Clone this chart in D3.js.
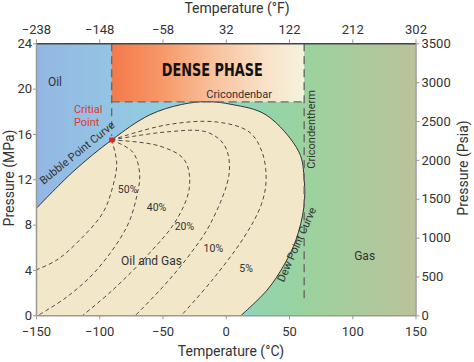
<!DOCTYPE html>
<html>
<head>
<meta charset="utf-8">
<script src="https://cdn.jsdelivr.net/npm/d3@7"></script>
<style>
  body { margin: 0; background: #fff; }
  text { font-family: Roboto, "Liberation Sans", sans-serif; }
</style>
</head>
<body>
<div id="chart"></div>
<script>
// Axis ticks
const tempTicksC = [-150, -100, -50, 0, 50, 100, 150];
const tempTicksF = [-238, -148, -58, 32, 122, 212, 302];
const pressureTicksMPa = [0, 4, 8, 12, 16, 20, 24];
const pressureTicksPsia = [0, 500, 1000, 1500, 2000, 2500, 3000, 3500];

// Phase envelope (temperature °C, pressure MPa)
const envelopeT = [-150, -120.9, -90.2, -60.2, -35, -15, 5, 31.9, 57.9, 62, 61.8, 55.5, 46.1, 32.7, 12.2];
const envelopeP = [9.4, 12.65, 15.47, 17.68, 18.6, 18.85, 18.6, 17.68, 14.4, 12.0, 9.56, 6.65, 4.44, 2.23, 0];

const criticalT = -90.2, criticalP = 15.47;
const cricondenbarP = 18.83;
const cricondenthermT = 62;

// Quality lines (liquid %)
const qualityLabels = ["50%", "40%", "20%", "10%", "5%"];
const qualityT = [
  [-90.2, -86.2, -89.4, -97.2, -115.4, -133.5, -150],
  [-90.2, -73.6, -68.1, -70.5, -78.3, -102, -125.6, -147.5],
  [-90.2, -52.4, -32.7, -28.7, -39, -60.2, -89.4, -113],
  [-90.2, -46.9, -15.4, -1.2, 2.8, -11.4, -28.7, -48.4, -71.3],
  [-90.2, -46.9, -7.5, 18.5, 28.7, 31.9, 28, 14.6, -10.6, -35]
];
const qualityP = [
  [15.47, 13.44, 11.32, 9.03, 6.65, 4.88, 4.0],
  [15.47, 14.41, 12.56, 10.44, 7.79, 4.0, 1.62, 0.05],
  [15.47, 14.94, 13.71, 11.32, 8.41, 5.5, 2.23, 0],
  [15.47, 16.18, 16.18, 15.03, 12.65, 8.24, 5.32, 2.67, 0],
  [15.47, 16.8, 17.06, 16.18, 14.41, 11.94, 9.74, 6.91, 3.12, 0]
];
const qualityLabelT = [-77.6, -54.7, -32.7, -9.8, 16.1];
const qualityLabelP = [11.15, 9.56, 7.88, 5.94, 4.17];

const width = 474, height = 362;
const mLeft = 36, mRight = 415.5, mTop = 43.3, mBottom = 315.3;

const svg = d3.select("#chart").append("svg")
  .attr("width", width).attr("height", height);

const x = d3.scaleLinear().domain([-150, 150]).range([mLeft, mRight]);
const xF = d3.scaleLinear().domain([-238, 302]).range([mLeft, mRight]);
const y = d3.scaleLinear().domain([0, 24]).range([mBottom, mTop]);
const yPsi = d3.scaleLinear().domain([0, 3500]).range([mBottom, mTop]);

const defs = svg.append("defs");
const bg = defs.append("linearGradient").attr("id", "bg");
[[0, "#93b7e4"], [0.22, "#94c6e3"], [0.45, "#8ed5d7"], [0.6, "#93d4ab"], [0.72, "#9cd29e"], [1, "#bbc29b"]]
  .forEach(s => bg.append("stop").attr("offset", s[0]).attr("stop-color", s[1]));
const dense = defs.append("linearGradient").attr("id", "dense");
[[0, "#f47a4a"], [0.25, "#f79666"], [0.55, "#f9c4a0"], [0.8, "#f8e2c8"], [1, "#f5f2dc"]]
  .forEach(s => dense.append("stop").attr("offset", s[0]).attr("stop-color", s[1]));
defs.append("clipPath").attr("id", "plot").append("rect")
  .attr("x", mLeft).attr("y", mTop).attr("width", mRight - mLeft).attr("height", mBottom - mTop);

// Background
svg.append("rect")
  .attr("x", mLeft).attr("y", mTop).attr("width", mRight - mLeft).attr("height", mBottom - mTop)
  .attr("fill", "url(#bg)");

// Dense phase
svg.append("rect")
  .attr("x", x(criticalT)).attr("y", y(24))
  .attr("width", x(cricondenthermT) - x(criticalT))
  .attr("height", y(cricondenbarP) - y(24))
  .attr("fill", "url(#dense)");

const env = envelopeT.map((t, i) => [t, envelopeP[i]]);
const curve = d3.line().x(d => x(d[0])).y(d => y(d[1])).curve(d3.curveCatmullRom.alpha(0.5));

const g = svg.append("g").attr("clip-path", "url(#plot)");

// Envelope fill
g.append("path")
  .attr("d", curve(env) + `L${x(-150)},${y(0)}Z`)
  .attr("fill", "#f2e7c9");

// Quality lines
qualityT.forEach((ts, k) => {
  g.append("path")
    .attr("d", curve(ts.map((t, i) => [t, qualityP[k][i]])))
    .attr("fill", "none")
    .attr("stroke", "#3a3a3a")
    .attr("stroke-width", 0.9)
    .attr("stroke-dasharray", "4,3");
});

// Envelope outline
g.append("path")
  .attr("d", curve(env))
  .attr("fill", "none")
  .attr("stroke", "#333")
  .attr("stroke-width", 1);

// Dashed boundaries
const dashed = (x1, y1, x2, y2) => svg.append("line")
  .attr("x1", x1).attr("y1", y1).attr("x2", x2).attr("y2", y2)
  .attr("stroke", "#6a6a6a").attr("stroke-width", 1.4).attr("stroke-dasharray", "8,5");
dashed(x(criticalT), y(24), x(criticalT), y(criticalP + 0.35));
dashed(x(criticalT), y(cricondenbarP), x(cricondenthermT), y(cricondenbarP));
dashed(x(cricondenthermT), y(24), x(cricondenthermT), y(1.2));

// Critical point
svg.append("rect")
  .attr("x", x(criticalT) - 2.5).attr("y", y(criticalP) - 2.5)
  .attr("width", 5).attr("height", 5)
  .attr("fill", "#e8231c");

// Labels
const label = (t, p, txt, size, opts = {}) => svg.append("text")
  .attr("transform", `translate(${x(t)},${y(p)}) rotate(${opts.rotate || 0})`)
  .attr("text-anchor", opts.anchor || "middle")
  .attr("dy", "0.35em")
  .attr("font-size", size)
  .attr("fill", opts.fill || "#333")
  .text(txt);

label(-135, 20.6, "Oil", 12);
label(-120, 18.2, "Critial", 11, { anchor: "start", fill: "#e5372a" });
label(-120, 17.05, "Point", 11, { anchor: "start", fill: "#e5372a" });
label(-10.6, 21.65, "DENSE PHASE", 18)
  .attr("font-weight", "bold")
  .style("font-family", "'Liberation Sans Narrow', 'DejaVu Sans Condensed', sans-serif")
  .attr("textLength", 101).attr("lengthAdjust", "spacingAndGlyphs")
  .attr("fill", "#111");
label(10.6, 19.5, "Cricondenbar", 11);
label(67.3, 16.4, "Cricondentherm", 11, { rotate: -90 });
label(-117.5, 14.35, "Bubble Point Curve", 11, { rotate: -39 });
label(56.0, 6.25, "Dew Point Curve", 11, { rotate: -66 });
label(-58.7, 4.8, "Oil and Gas", 12);
label(109.8, 5.23, "Gas", 12);
qualityLabels.forEach((s, i) => label(qualityLabelT[i], qualityLabelP[i], s, 10.5));

// Axes
function styleAxis(sel) {
  sel.select(".domain").attr("stroke", "#999").attr("stroke-width", 1.5);
  sel.selectAll(".tick line").attr("stroke", "#999").attr("stroke-width", 1);
  sel.selectAll(".tick text").attr("fill", "#333").attr("font-size", 13)
    .style("font-family", "Roboto, 'Liberation Sans', sans-serif");
}

svg.append("g").attr("transform", `translate(0,${mBottom})`)
  .call(d3.axisBottom(x).tickValues(tempTicksC).tickSize(4).tickPadding(7).tickSizeOuter(0))
  .call(styleAxis);
svg.append("g").attr("transform", `translate(0,${mTop})`)
  .call(d3.axisTop(xF).tickValues(tempTicksF).tickSize(4).tickPadding(5).tickSizeOuter(0))
  .call(styleAxis)
  .call(a => a.select(".domain").attr("stroke", "#444"));
svg.append("g").attr("transform", `translate(${mLeft},0)`)
  .call(d3.axisLeft(y).tickValues(pressureTicksMPa).tickSize(3).tickPadding(1).tickSizeOuter(0))
  .call(styleAxis);
svg.append("g").attr("transform", `translate(${mRight},0)`)
  .call(d3.axisRight(yPsi).tickValues(pressureTicksPsia).tickFormat(d3.format("d"))
    .tickSize(4).tickPadding(2).tickSizeOuter(0))
  .call(styleAxis);

// Axis titles
const title = (tx, ty, txt, rot) => svg.append("text")
  .attr("transform", `translate(${tx},${ty}) rotate(${rot})`)
  .attr("text-anchor", "middle")
  .attr("font-size", 14)
  .attr("fill", "#333")
  .text(txt);
title(237, 13, "Temperature (°F)", 0);
title(231, 356, "Temperature (°C)", 0);
title(14, 178, "Pressure (MPa)", -90);
title(468, 168, "Pressure (Psia)", -90);
</script>
</body>
</html>
